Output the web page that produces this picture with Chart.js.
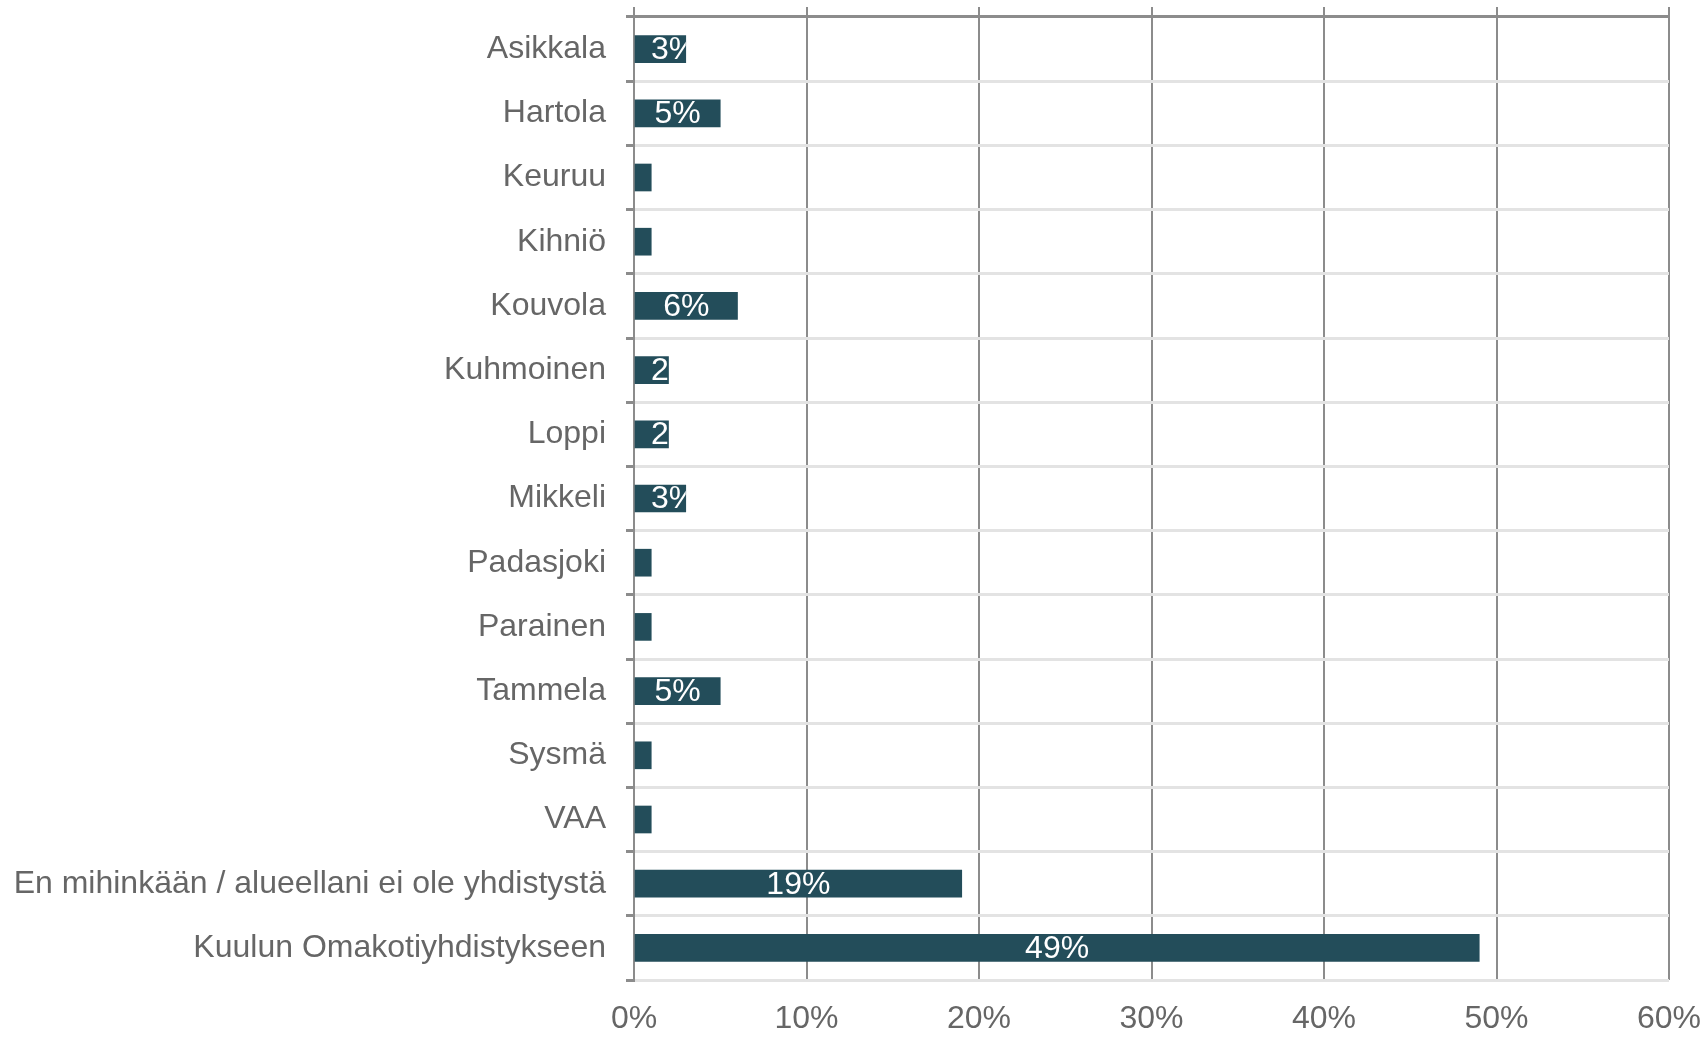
<!DOCTYPE html>
<html>
<head>
<meta charset="utf-8">
<script src="https://cdn.jsdelivr.net/npm/chart.js@4/dist/chart.umd.min.js"></script>
<style>
    html, body { margin: 0; padding: 0; background: #fff; }
    #wrap { width: 1708px; height: 1037px; }
</style>
</head>
<body>
<div id="wrap"><canvas id="chart"></canvas></div>
<script>
const categories = [
    'Asikkala', 'Hartola', 'Keuruu', 'Kihniö', 'Kouvola', 'Kuhmoinen', 'Loppi',
    'Mikkeli', 'Padasjoki', 'Parainen', 'Tammela', 'Sysmä', 'VAA',
    'En mihinkään / alueellani ei ole yhdistystä', 'Kuulun Omakotiyhdistykseen',
];
const shares = [3, 5, 1, 1, 6, 2, 2, 3, 1, 1, 5, 1, 1, 19, 49];
const tickValues = [0, 10, 20, 30, 40, 50, 60];

const FONT = '"Liberation Sans", Arial, sans-serif';
const darkLine = '#8c8c8c';
const lightLine = '#e3e3e3';

// white value labels, clipped to their bar like the original
const barLabels = {
    id: 'barLabels',
    afterDatasetsDraw(chart) {
        const ctx = chart.ctx;
        const meta = chart.getDatasetMeta(0);
        ctx.save();
        ctx.font = '32px ' + FONT;
        ctx.fillStyle = '#ffffff';
        ctx.textAlign = 'left';
        ctx.textBaseline = 'middle';
        meta.data.forEach((bar, i) => {
            const text = shares[i] + '%';
            const w = ctx.measureText(text).width;
            const left = Math.min(bar.base, bar.x);
            const right = Math.max(bar.base, bar.x);
            const top = bar.y - bar.height / 2;
            let tx = (left + right) / 2 - w / 2;
            if (tx < left + 16) tx = left + 16;
            ctx.save();
            ctx.beginPath();
            ctx.rect(left, top, right - left, bar.height);
            ctx.clip();
            ctx.fillText(text, tx, bar.y + 1);
            ctx.restore();
        });
        ctx.restore();
    }
};

new Chart(document.getElementById('chart'), {
    type: 'bar',
    data: {
        labels: categories,
        datasets: [{
            data: shares,
            backgroundColor: '#234d5a',
            borderWidth: 0,
            barThickness: 27,
        }],
    },
    options: {
        indexAxis: 'y',
        responsive: true,
        maintainAspectRatio: false,
        animation: false,
        layout: { padding: { top: 7, right: 39, left: 0, bottom: 0 } },
        plugins: {
            legend: { display: false },
            tooltip: { enabled: false },
        },
        scales: {
            x: {
                position: 'bottom',
                min: 0,
                max: 60,
                afterBuildTicks: (scale) => {
                    scale.ticks = tickValues.map(v => ({ value: v }));
                },
                afterFit: (scale) => {
                    scale.height = 57;
                    scale.paddingLeft = 0;
                    scale.paddingRight = 0;
                },
                ticks: {
                    callback: (v) => v + '%',
                    color: '#666666',
                    font: { family: FONT, size: 32 },
                    padding: 20,
                    maxRotation: 0,
                },
                grid: {
                    color: darkLine,
                    lineWidth: 2,
                    drawTicks: false,
                },
                border: { display: false },
            },
            xTop: {
                type: 'linear',
                position: 'top',
                axis: 'x',
                min: 0,
                max: 60,
                afterBuildTicks: (scale) => {
                    scale.ticks = tickValues.map(v => ({ value: v }));
                },
                afterFit: (scale) => {
                    scale.height = 10;
                    scale.paddingLeft = 0;
                    scale.paddingRight = 0;
                },
                ticks: { display: false },
                grid: {
                    drawOnChartArea: false,
                    drawTicks: true,
                    tickLength: 10,
                    tickColor: darkLine,
                    color: darkLine,
                    lineWidth: 2,
                },
                border: { display: true, color: darkLine, width: 2 },
            },
            y: {
                afterFit: (scale) => {
                    scale.width = 634;
                    scale.paddingTop = 0;
                    scale.paddingBottom = 0;
                },
                ticks: {
                    color: '#666666',
                    font: { family: FONT, size: 32 },
                    padding: 20,
                },
                grid: {
                    offset: true,
                    color: (c) => c.index === 0 ? darkLine : lightLine,
                    lineWidth: 3,
                    tickLength: 8,
                    tickColor: darkLine,
                },
                border: { display: true, color: darkLine, width: 2 },
            },
        },
    },
    plugins: [barLabels],
});
</script>
</body>
</html>
